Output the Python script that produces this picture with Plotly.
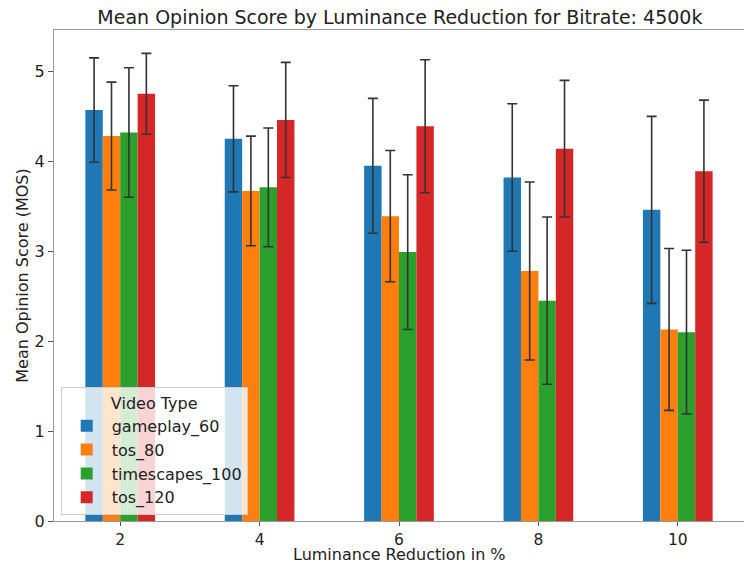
import plotly.graph_objects as go

# Luminance reduction levels (%) and per-video-type mean opinion scores with std errors
reductions = [2, 4, 6, 8, 10]
video_types = ["gameplay_60", "tos_80", "timescapes_100", "tos_120"]
colors = ["#1f77b4", "#ff7f0e", "#2ca02c", "#d62728"]

mos_gameplay_60 = [4.57, 4.25, 3.95, 3.82, 3.46]
err_gameplay_60 = [0.58, 0.59, 0.75, 0.82, 1.04]

mos_tos_80 = [4.28, 3.67, 3.39, 2.78, 2.13]
err_tos_80 = [0.60, 0.61, 0.73, 0.99, 0.90]

mos_timescapes_100 = [4.32, 3.71, 2.99, 2.45, 2.10]
err_timescapes_100 = [0.72, 0.66, 0.86, 0.93, 0.91]

mos_tos_120 = [4.75, 4.46, 4.39, 4.14, 3.89]
err_tos_120 = [0.45, 0.64, 0.74, 0.76, 0.79]

means = [mos_gameplay_60, mos_tos_80, mos_timescapes_100, mos_tos_120]
errors = [err_gameplay_60, err_tos_80, err_timescapes_100, err_tos_120]

FONT = "DejaVu Sans"

fig = go.Figure()
for name, color, m, e in zip(video_types, colors, means, errors):
    fig.add_trace(go.Bar(
        x=reductions,
        y=m,
        name=name,
        marker=dict(color=color, line=dict(width=0)),
        error_y=dict(type="data", array=e, visible=True,
                     color="#333333", thickness=1.6, width=5),
    ))

# x-axis title placed just under the tick labels, kept inside the page
fig.add_annotation(
    text="Luminance Reduction in %",
    xref="paper", yref="paper", x=0.5, y=0,
    xanchor="center", yanchor="top", yshift=-23,
    borderpad=0, showarrow=False,
    font=dict(family=FONT, size=16, color="#222222"),
)

fig.update_layout(
    width=744,
    height=563,
    margin=dict(l=54, r=0, t=30, b=42),
    paper_bgcolor="white",
    plot_bgcolor="white",
    barmode="group",
    bargap=0.5,
    bargroupgap=0,
    font=dict(family=FONT, size=16, color="#222222"),
    title=dict(
        text="Mean Opinion Score by Luminance Reduction for Bitrate: 4500k",
        x=0.5375, xanchor="center", y=0.97, yanchor="middle",
        font=dict(family=FONT, size=19, color="#222222"),
    ),
    xaxis=dict(
        range=[1.05, 10.95],
        tickvals=reductions,
        ticks="outside", ticklen=4, tickcolor="#555555",
        ticklabelstandoff=0,
        showline=True, linecolor="#999999", linewidth=1.3, mirror=True,
        showgrid=False, zeroline=False,
        tickfont=dict(family=FONT, size=15.5),
    ),
    yaxis=dict(
        range=[0, 5.46],
        tickvals=[0, 1, 2, 3, 4, 5],
        ticks="outside", ticklen=5, tickcolor="#555555",
        showline=True, linecolor="#999999", linewidth=1.3, mirror=True,
        showgrid=False, zeroline=False,
        title=dict(text="Mean Opinion Score (MOS)", standoff=1,
                   font=dict(family=FONT, size=16)),
        tickfont=dict(family=FONT, size=16),
    ),
    legend=dict(
        x=0.0097, y=0.012, xanchor="left", yanchor="bottom",
        bgcolor="rgba(255,255,255,0.8)",
        bordercolor="#cccccc", borderwidth=1,
        title=dict(text="Video Type", side="top center", font=dict(family=FONT, size=16)),
        font=dict(family=FONT, size=16),
        itemwidth=40,
        tracegroupgap=2,
    ),
)

fig.write_html("out.html")
